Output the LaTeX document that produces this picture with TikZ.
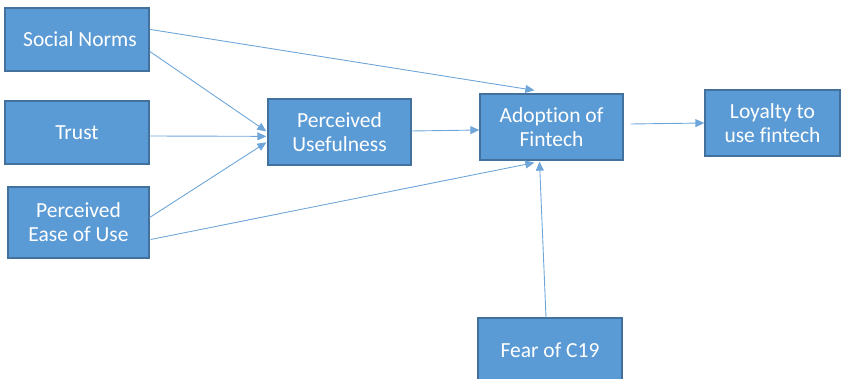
\documentclass[tikz,border=0pt]{standalone}
\usepackage{fontspec}
\setmainfont[Ligatures=NoCommon]{Carlito}
\usetikzlibrary{arrows.meta,calc}
\definecolor{boxfill}{HTML}{5B9BD5}
\definecolor{boxline}{HTML}{41719C}
\definecolor{linkcol}{HTML}{6FA6DA}
\begin{document}
\begin{tikzpicture}[x=1pt,y=-1pt,
  factor/.style={draw=boxline, line width=1.3pt, fill=boxfill, text=white,
    align=center, inner sep=0pt, font=\fontsize{21.5}{24}\selectfont},
  link/.style={draw=linkcol, line width=0.9pt,
    -{Triangle[length=9pt,width=8pt]}}]
\useasboundingbox (0,0) rectangle (844,379);
\clip (0,0) rectangle (844,379);

% constructs
\node[factor, minimum width=144pt, minimum height=63pt] (sn) at (77,39.5) {\hspace*{6pt}Social Norms};
\node[factor, minimum width=144pt, minimum height=63pt] (tr) at (77,132.5) {Trust};
\node[factor, minimum width=141pt, minimum height=71pt] (pe) at (78.5,222.5) {Perceived\\Ease of Use};
\node[factor, minimum width=143pt, minimum height=66pt] (pu) at (339.5,132) {Perceived\\Usefulness};
\node[factor, minimum width=143pt, minimum height=66pt] (ad) at (551.5,127) {Adoption of\\Fintech};
\node[factor, minimum width=135pt, minimum height=66pt] (lo) at (772.5,123) {Loyalty to\\use fintech};
\node[factor, minimum width=144pt, minimum height=64pt] (fe) at (550,350) {Fear of C19};

% paths
\draw[link] ($(sn.north east)+(0,22)$) -- ($(ad.north west)+(55,-3)$);
\draw[link] ($(sn.north east)+(0,44)$) -- ($(pu.north west)+(-1,33)$);
\draw[link] ($(tr.east)+(0,3.5)$) -- ($(pu.north west)+(-1,38)$);
\draw[link] ($(pe.east)+(0,-5)$) -- ($(pu.north west)+(-1,44)$);
\draw[link] ($(pe.east)+(1,17)$) -- ($(ad.south west)+(55,2)$);
\draw[link] ($(pu.east)+(0,-1)$) -- ($(ad.west)+(0,3)$);
\draw[link] ($(fe.north)+(-4,0)$) -- ($(ad.south)+(-12,1)$);
\draw[link] ($(ad.east)+(7,-3)$) -- (lo.west);
\end{tikzpicture}
\end{document}
